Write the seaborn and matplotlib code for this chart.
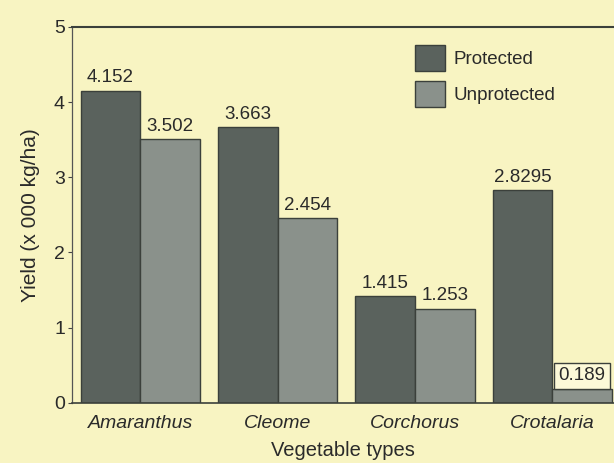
import pandas as pd
import matplotlib.pyplot as plt
import seaborn as sns

# Yield values
vegetables = ['Amaranthus', 'Cleome', 'Corchorus', 'Crotalaria']
protected = [4.152, 3.663, 1.415, 2.8295]
unprotected = [3.502, 2.454, 1.253, 0.189]
labels_protected = ['4.152', '3.663', '1.415', '2.8295']
labels_unprotected = ['3.502', '2.454', '1.253', '0.189']

df = pd.DataFrame({
    'vegetable': vegetables * 2,
    'yield': protected + unprotected,
    'treatment': ['Protected'] * 4 + ['Unprotected'] * 4,
})

bg = '#f8f4c2'
txt = '#2a2a2a'
sns.set_theme(style='white')
plt.rcParams['font.family'] = ['Liberation Sans', 'DejaVu Sans']

fig = plt.figure(figsize=(6.14, 4.63), dpi=100, facecolor=bg)
ax = fig.add_axes([0.117, 0.13, 0.883, 0.812])
ax.set_facecolor(bg)

sns.barplot(data=df, x='vegetable', y='yield', hue='treatment',
            palette=['#5a625d', '#8a918b'], width=0.87, ax=ax,
            edgecolor='#3b403b', linewidth=1.0, saturation=1)

# value labels above each bar
for container, labs in zip(ax.containers, [labels_protected, labels_unprotected]):
    ax.bar_label(container, labels=labs, padding=3, fontsize=13.5, color=txt)

# the last label sits in a small boxed patch in the original
last = ax.texts[-1]
last.set_bbox(dict(boxstyle='square,pad=0.25', facecolor='#fcf9d8',
                   edgecolor='#3b403b', linewidth=1.0))

ax.set_ylim(0, 5)
ax.set_xlim(-0.5, 3.45)
ax.set_yticks([0, 1, 2, 3, 4, 5])
ax.tick_params(axis='y', left=True, length=3, width=0.8, color='#444444',
               labelsize=14, labelcolor=txt, pad=2)
ax.tick_params(axis='x', bottom=False, labelsize=14, labelcolor=txt, pad=3)
for t in ax.get_xticklabels():
    t.set_fontstyle('italic')

ax.set_xlabel('Vegetable types', fontsize=14.5, color=txt, labelpad=6)
ax.set_ylabel('Yield (x 000 kg/ha)', fontsize=15, color=txt, labelpad=10)

ax.spines['right'].set_visible(False)
ax.spines['left'].set_color('#555555')
ax.spines['left'].set_linewidth(0.9)
ax.spines['bottom'].set_color('#3b403b')
ax.spines['bottom'].set_linewidth(1.2)
ax.spines['top'].set_color('#3b403b')
ax.spines['top'].set_linewidth(1.5)

leg = ax.legend(loc='upper left', bbox_to_anchor=(0.62, 0.972), frameon=False,
                fontsize=13.5, handlelength=1.55, handleheight=1.75,
                handletextpad=0.5, labelspacing=0.55, borderaxespad=0)
for t in leg.get_texts():
    t.set_color(txt)

fig.savefig('out.png', dpi=100, facecolor=bg)
